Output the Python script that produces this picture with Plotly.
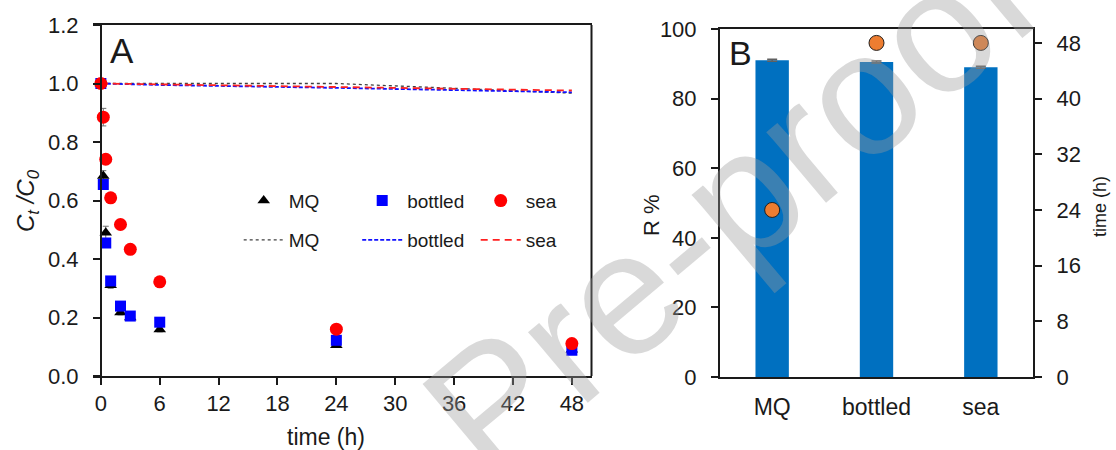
import plotly.graph_objects as go

# ---------------- data ----------------
time_h = [0, 0.25, 0.5, 1, 2, 3, 6, 24, 48]
mq = [1.0, 0.684, 0.49, 0.31, 0.217, 0.20, 0.159, 0.105, 0.09]
mq_err = [0.0, 0.018, 0.022, 0.01, 0.008, 0.008, 0.008, 0.006, 0.005]
bottled = [1.0, 0.655, 0.455, 0.325, 0.239, 0.205, 0.184, 0.122, 0.088]
bottled_err = [0.0, 0.01, 0.01, 0.01, 0.008, 0.008, 0.008, 0.006, 0.005]
sea = [1.0, 0.885, 0.741, 0.609, 0.518, 0.433, 0.322, 0.16, 0.111]
sea_err = [0.0, 0.03, 0.01, 0.01, 0.01, 0.01, 0.01, 0.008, 0.005]

ctrl_time = [0, 6, 24, 48]
ctrl_mq = [1.0, 1.0, 1.0, 0.967]
ctrl_bottled = [1.0, 0.995, 0.985, 0.970]
ctrl_sea = [1.0, 0.997, 0.988, 0.976]

water = ["MQ", "bottled", "sea"]
removal = [91.0, 90.5, 89.0]
removal_err = [0.3, 0.3, 0.3]
eq_time = [24, 48, 48]

FONT = "Liberation Sans, Arial, sans-serif"
W, H = 1116, 450

def px(x):
    return x / W

def py(y):
    return 1 - y / H

fig = go.Figure()

# control lines (legend2)
fig.add_trace(go.Scatter(x=ctrl_time, y=ctrl_mq, mode="lines", name="MQ",
                         line=dict(color="#404040", width=1.3, dash="dot"),
                         xaxis="x", yaxis="y", legend="legend2"))
fig.add_trace(go.Scatter(x=ctrl_time, y=ctrl_bottled, mode="lines", name="bottled",
                         line=dict(color="#1010ff", width=1.8, dash="4px,2px"),
                         xaxis="x", yaxis="y", legend="legend2"))
fig.add_trace(go.Scatter(x=ctrl_time, y=ctrl_sea, mode="lines", name="sea",
                         line=dict(color="#ff2020", width=1.8, dash="7px,5px"),
                         xaxis="x", yaxis="y", legend="legend2"))

# error bars (no legend)
for vals, errs in [(mq, mq_err), (bottled, bottled_err), (sea, sea_err)]:
    fig.add_trace(go.Scatter(x=time_h, y=vals, mode="markers",
                             marker=dict(size=1, opacity=0),
                             error_y=dict(type="data", array=errs, color="#707070",
                                          thickness=1, width=3),
                             showlegend=False, hoverinfo="skip",
                             xaxis="x", yaxis="y"))

# data markers (legend)
fig.add_trace(go.Scatter(x=time_h, y=mq, mode="markers", name="MQ",
                         marker=dict(symbol="triangle-up", size=11, color="black"),
                         xaxis="x", yaxis="y", legend="legend"))
fig.add_trace(go.Scatter(x=time_h, y=bottled, mode="markers", name="bottled",
                         marker=dict(symbol="square", size=11, color="#0000ff"),
                         xaxis="x", yaxis="y", legend="legend"))
fig.add_trace(go.Scatter(x=time_h, y=sea, mode="markers", name="sea",
                         marker=dict(symbol="circle", size=13, color="#ff0000"),
                         xaxis="x", yaxis="y", legend="legend"))

# panel B
fig.add_trace(go.Bar(x=water, y=removal, marker=dict(color="#0070c0", line=dict(width=0)),
                     error_y=dict(type="data", array=removal_err, color="#606060",
                                  thickness=1.5, width=5),
                     showlegend=False, xaxis="x2", yaxis="y2"))
fig.add_trace(go.Scatter(x=water, y=eq_time, mode="markers",
                         marker=dict(size=15, color="#ed7d31", line=dict(color="#202020", width=1)),
                         showlegend=False, xaxis="x2", yaxis="y3"))

axis_common = dict(showgrid=False, zeroline=False, showline=True, linecolor="#1a1a1a",
                   linewidth=2, ticks="outside", ticklen=7, tickwidth=2, tickcolor="#1a1a1a",
                   automargin=False,
                   tickfont=dict(family=FONT, size=22, color="#1a1a1a"))

def ann(text, x, y, size, angle=0, color="#1a1a1a"):
    return dict(text=text, x=px(x), y=py(y), xref="paper", yref="paper", showarrow=False,
                xanchor="center", yanchor="middle", textangle=angle,
                font=dict(family=FONT, size=size, color=color))

fig.update_layout(
    template="none",
    width=W, height=H,
    margin=dict(l=0, r=0, t=0, b=0, pad=0),
    paper_bgcolor="white", plot_bgcolor="white",
    font=dict(family=FONT, color="#1a1a1a"),
    bargap=0.68,
    xaxis=dict(axis_common, domain=[px(93), px(591.5)], range=[-0.8, 50],
               tickvals=[0, 6, 12, 18, 24, 30, 36, 42, 48], mirror=True,
               anchor="y", ticklabelstandoff=0),
    yaxis=dict(axis_common, domain=[py(376), py(25)], range=[0, 1.2], dtick=0.2,
               tickformat=".1f", anchor="free", position=px(101), ticklabelstandoff=10),
    xaxis2=dict(axis_common, domain=[px(720), px(1033)], ticks="", mirror=True,
                anchor="y2", tickfont=dict(family=FONT, size=23, color="#1a1a1a"),
                ticklabelstandoff=8),
    yaxis2=dict(axis_common, domain=[py(377), py(29)], range=[0, 100], dtick=20,
                anchor="x2", ticklabelstandoff=10),
    yaxis3=dict(axis_common, range=[0, 50], dtick=8, overlaying="y2", side="right",
                anchor="x2", ticklabelstandoff=10),
    legend=dict(orientation="h", x=px(290.7 - 52), y=py(200.7), xanchor="left", yanchor="middle",
                font=dict(family=FONT, size=19, color="#1a1a1a"), bgcolor="rgba(0,0,0,0)",
                itemwidth=40, entrywidth=63.5, entrywidthmode="pixels", traceorder="normal"),
    legend2=dict(orientation="h", x=px(290.7 - 52), y=py(240), xanchor="left", yanchor="middle",
                 font=dict(family=FONT, size=19, color="#1a1a1a"), bgcolor="rgba(0,0,0,0)",
                 itemwidth=40, entrywidth=63.5, entrywidthmode="pixels", traceorder="normal"),
    shapes=[
        dict(type="line", xref="x domain", yref="y domain", x0=1, x1=1, y0=0, y1=1,
             line=dict(color="#1a1a1a", width=2)),
    ],
    annotations=[
        ann("A", 121.5, 50, 35),
        ann("B", 740, 53, 34),
        ann("time (h)", 326, 437, 23),
        ann("<i>C<sub>t</sub> /C<sub>0</sub></i>", 27, 201, 24, -90),
        ann("R %", 651, 215, 22, -90),
        ann("time (h)", 1100, 207, 18, -90),
        ann("Pre-proof", 730, 205, 175, -40, "rgba(154,154,154,0.38)"),
    ],
)

fig.write_html("out.html")
